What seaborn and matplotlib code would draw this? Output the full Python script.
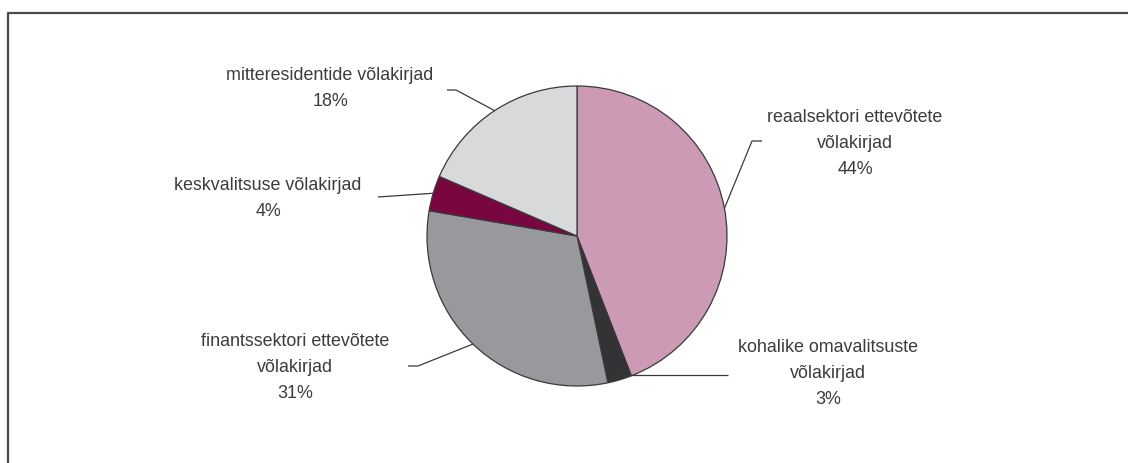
import numpy as np
import matplotlib
matplotlib.use("Agg")
import matplotlib.pyplot as plt
import seaborn as sns

# Data: bond holdings by issuer, shares in percent (clockwise from top)
categories = [
    "reaalsektori ettevõtete\nvõlakirjad",
    "kohalike omavalitsuste\nvõlakirjad",
    "finantssektori ettevõtete\nvõlakirjad",
    "keskvalitsuse võlakirjad",
    "mitteresidentide võlakirjad",
]
shares = [44.1, 2.6, 31.0, 3.8, 18.5]
colors = ["#CC9AB5", "#333335", "#99989D", "#7A0640", "#D8D9DB"]

sns.set_theme(style="white")
plt.rcParams['font.family'] = ['Liberation Sans', 'DejaVu Sans']

W, H = 1128, 464
fig = plt.figure(figsize=(W / 100, H / 100), dpi=100)
ax = fig.add_axes([0, 0, 1, 1])

cx, cy, r = 577, H - 237, 150
wedges, _ = ax.pie(shares, colors=colors, startangle=90, counterclock=False,
                   center=(cx, cy), radius=r,
                   wedgeprops=dict(edgecolor="#3a3a3a", linewidth=0.9))
ax.set_xlim(0, W)
ax.set_ylim(0, H)
ax.axis("off")

# label text centre (x, y of first line) and leader line knee points (pixels)
label_pos = [(855, 117), (828, 348), (295, 342), (268, 186), (330, 76)]
knees = [[(762, 142), (752, 142)],
         [(728, 376)],
         [(408, 367), (418, 367)],
         [(378, 198)],
         [(447, 91), (456, 91)]]
step = 26

for w, txt, pct, (tx, ty), kn in zip(wedges, categories, shares, label_pos, knees):
    mid = np.deg2rad((w.theta1 + w.theta2) / 2)
    ex, ey = cx + r * np.cos(mid), cy + r * np.sin(mid)
    if len(kn) == 1 and txt.startswith("kohalike"):
        xs = [kn[0][0], ex]
        ys = [H - kn[0][1], H - kn[0][1]]
    else:
        xs = [p[0] for p in kn] + [ex]
        ys = [H - p[1] for p in kn] + [ey]
    ax.plot(xs, ys, color="#3a3a3a", lw=0.9, solid_capstyle="butt")
    lines = txt.split("\n") + [f"{pct:.0f}%"]
    for i, ln in enumerate(lines):
        ax.text(tx, H - (ty + i * step), ln, ha="center", va="center",
                fontsize=12.9, color="#3c3c3c")

# outer frame (cut off at right and bottom)
ax.plot([7.5, 7.5, W + 5], [-5, H - 13.5, H - 13.5], color="#4a4a4a", lw=1.6,
        clip_on=False)

fig.savefig("out.png", dpi=100, facecolor="white")
